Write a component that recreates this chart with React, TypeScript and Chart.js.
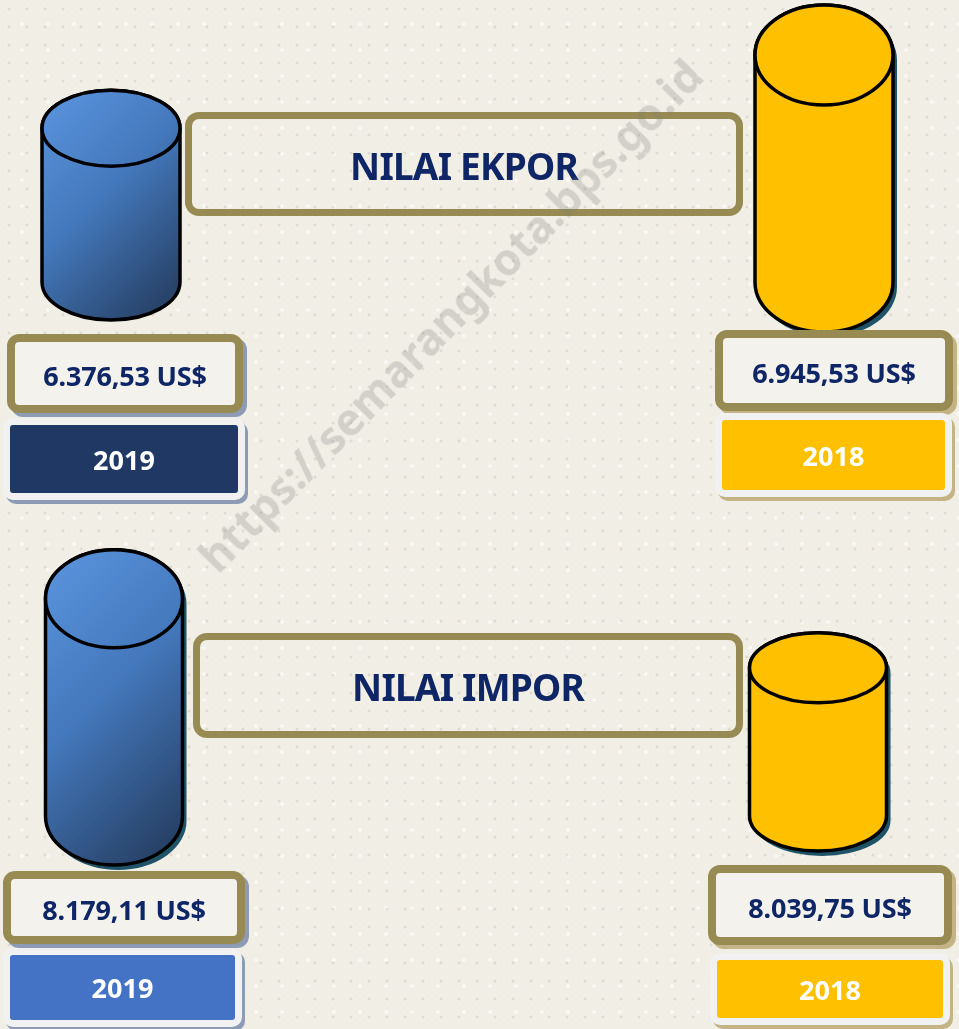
import React, { useEffect, useRef } from 'react';
import { Chart, registerables } from 'chart.js';

Chart.register(...registerables);

// ---- data ----
const years = ['2019', '2018'];
const eksporValues = [6376.53, 6945.53];
const imporValues = [8179.11, 8039.75];
const titles = ['NILAI EKPOR', 'NILAI IMPOR'];
const currency = 'US$';
const watermark = 'https://semarangkota.bps.go.id';

function formatId(v: number): string {
  const [i, d] = v.toFixed(2).split('.');
  return i.replace(/\B(?=(\d{3})+(?!\d))/g, '.') + ',' + d + ' ' + currency;
}

const NAVY = '#0E2566';
const OLIVE = '#978B53';
const YELLOW = '#FFC000';
const FONT = '"Noto Sans", "DejaVu Sans", sans-serif';

const cylinderPlugin = {
  id: 'cylinder',
  afterDatasetsDraw(chart: any, _args: any, opts: any) {
    const ctx = chart.ctx as CanvasRenderingContext2D;
    const meta = chart.getDatasetMeta(0);
    meta.data.forEach((bar: any, i: number) => {
      const { x, y, base, width } = bar.getProps(['x', 'y', 'base', 'width'], true);
      const rx = width / 2;
      const ry = opts.ry[i];
      const kind = opts.kinds[i];
      const body = (dx: number, dy: number) => {
        ctx.beginPath();
        ctx.moveTo(x - rx + dx, y + dy);
        ctx.lineTo(x - rx + dx, base + dy);
        ctx.ellipse(x + dx, base + dy, rx, ry, 0, Math.PI, 0, true);
        ctx.lineTo(x + rx + dx, y + dy);
        ctx.ellipse(x + dx, y + dy, rx, ry, 0, 0, Math.PI, true);
        ctx.closePath();
      };
      let fill: any = YELLOW;
      if (kind === 'blue') {
        const x0 = x - rx;
        const y0 = y - ry;
        const t = (2 * rx + (base - y + 2 * ry)) / 2;
        const g = ctx.createLinearGradient(x0, y0, x0 + t, y0 + t);
        g.addColorStop(0, '#5B96DF');
        g.addColorStop(0.45, '#4478BC');
        g.addColorStop(1, '#223858');
        fill = g;
      }
      ctx.save();
      if (opts.shadow[i]) {
        body(4, 5);
        ctx.fillStyle = '#1F5468';
        ctx.fill();
      }
      body(0, 0);
      ctx.fillStyle = fill;
      ctx.fill();
      ctx.lineWidth = 3.5;
      ctx.strokeStyle = '#000';
      ctx.lineJoin = 'round';
      ctx.stroke();
      ctx.beginPath();
      ctx.ellipse(x, y, rx, ry, 0, 0, Math.PI * 2);
      ctx.fillStyle = fill;
      ctx.fill();
      ctx.stroke();
      ctx.restore();
    });
  },
};

type PanelCfg = {
  values: number[];
  top: number;
  height: number;
  padding: { left: number; right: number; top: number; bottom: number };
  min: number;
  max: number;
  thickness: number;
  ry: number[];
  shadow: boolean[];
};

function CylinderChart({ cfg }: { cfg: PanelCfg }) {
  const ref = useRef<HTMLCanvasElement>(null);
  useEffect(() => {
    if (!ref.current) return;
    const chart = new Chart(ref.current, {
      type: 'bar',
      data: {
        labels: years,
        datasets: [
          {
            data: cfg.values,
            base: cfg.min,
            backgroundColor: ['#416FAA', YELLOW],
            borderWidth: 0,
            barThickness: cfg.thickness,
            clip: false as any,
          } as any,
        ],
      },
      options: {
        animation: false,
        responsive: false,
        layout: { padding: cfg.padding },
        scales: {
          x: { type: 'category', offset: false, display: false, grid: { display: false } },
          y: { display: false, min: cfg.min, max: cfg.max, grid: { display: false } },
        },
        plugins: {
          legend: { display: false },
          tooltip: { enabled: false },
          cylinder: { ry: cfg.ry, kinds: ['blue', 'yellow'], shadow: cfg.shadow },
        } as any,
      },
      plugins: [cylinderPlugin],
    });
    return () => chart.destroy();
  }, [cfg]);
  return (
    <canvas
      ref={ref}
      width={959}
      height={cfg.height}
      style={{ position: 'absolute', left: 0, top: cfg.top, width: 959, height: cfg.height }}
    />
  );
}

const eksporCfg: PanelCfg = {
  values: eksporValues,
  top: 0,
  height: 520,
  padding: { left: 111, right: 135, top: 48, bottom: 238 },
  min: 5180,
  max: 7000,
  thickness: 138,
  ry: [38, 50],
  shadow: [false, true],
};

const imporCfg: PanelCfg = {
  values: imporValues,
  top: 520,
  height: 509,
  padding: { left: 114, right: 141, top: 19, bottom: 213 },
  min: 7740,
  max: 8300,
  thickness: 137,
  ry: [49, 35],
  shadow: [true, true],
};

function ValueBox({ left, top, w, h, text, shadow }: any) {
  return (
    <div
      style={{
        position: 'absolute', left, top, width: w, height: h, boxSizing: 'border-box',
        border: `8px solid ${OLIVE}`, borderRadius: 12, background: '#F4F2EC',
        boxShadow: `4px 4px 0 ${shadow}`, display: 'flex', alignItems: 'center',
        justifyContent: 'center', fontFamily: FONT, fontWeight: 700, fontSize: 27,
        color: NAVY, letterSpacing: -0.2, paddingTop: 4,
      }}
    >
      {text}
    </div>
  );
}

function YearBox({ left, top, w, h, text, color, shadow }: any) {
  return (
    <div
      style={{
        position: 'absolute', left, top, width: w, height: h, boxSizing: 'border-box',
        border: '7px solid #F1F1F1', borderRadius: 10, background: color,
        boxShadow: `3px 4px 0 ${shadow}`, display: 'flex', alignItems: 'center',
        justifyContent: 'center', fontFamily: FONT, fontWeight: 700, fontSize: 27,
        color: '#FFFFFF',
      }}
    >
      {text}
    </div>
  );
}

function TitleBox({ left, top, w, h, text }: any) {
  return (
    <div
      style={{
        position: 'absolute', left, top, width: w, height: h, boxSizing: 'border-box',
        border: `7px solid ${OLIVE}`, borderRadius: 14, display: 'flex',
        alignItems: 'center', justifyContent: 'center', fontFamily: FONT,
        fontWeight: 700, fontSize: 37, color: NAVY, letterSpacing: -0.8, paddingTop: 2,
      }}
    >
      {text}
    </div>
  );
}

export default function App() {
  useEffect(() => {
    document.body.style.margin = '0';
    document.body.style.background = '#F1EEE6';
  }, []);
  const BLUE_SH = '#8E9BB4';
  const KHAKI_SH = '#C4B485';
  return (
    <div
      style={{
        position: 'absolute', left: 0, top: 0, width: 959, height: 1029, overflow: 'hidden',
        backgroundColor: '#F1EEE6',
        backgroundImage:
          'radial-gradient(rgba(190,184,168,0.35) 1.2px, transparent 1.8px), radial-gradient(rgba(255,255,255,0.6) 1.5px, transparent 2px)',
        backgroundSize: '18px 18px, 26px 26px',
        backgroundPosition: '0 0, 9px 11px',
      }}
    >
      <CylinderChart cfg={eksporCfg} />
      <CylinderChart cfg={imporCfg} />

      <TitleBox left={185} top={112} w={558} h={104} text={titles[0]} />
      <TitleBox left={193} top={633} w={550} h={105} text={titles[1]} />

      <ValueBox left={7} top={334} w={236} h={79} text={formatId(eksporValues[0])} shadow={BLUE_SH} />
      <YearBox left={3} top={418} w={242} h={82} text={years[0]} color="#1F3864" shadow={BLUE_SH} />
      <ValueBox left={715} top={330} w={238} h={81} text={formatId(eksporValues[1])} shadow={KHAKI_SH} />
      <YearBox left={715} top={413} w={237} h={84} text={years[1]} color={YELLOW} shadow={KHAKI_SH} />

      <ValueBox left={3} top={871} w={242} h={73} text={formatId(imporValues[0])} shadow={BLUE_SH} />
      <YearBox left={3} top={948} w={239} h={79} text={years[0]} color="#4472C4" shadow={BLUE_SH} />
      <ValueBox left={708} top={865} w={244} h={80} text={formatId(imporValues[1])} shadow={KHAKI_SH} />
      <YearBox left={710} top={953} w={240} h={72} text={years[1]} color={YELLOW} shadow={KHAKI_SH} />

      <div
        style={{
          position: 'absolute', left: 450, top: 315, transform: 'translate(-50%, -50%) rotate(-45.5deg)',
          fontFamily: FONT, fontWeight: 700, fontSize: 44, color: 'rgba(120,118,110,0.25)',
          whiteSpace: 'nowrap', pointerEvents: 'none',
        }}
      >
        {watermark}
      </div>
    </div>
  );
}
